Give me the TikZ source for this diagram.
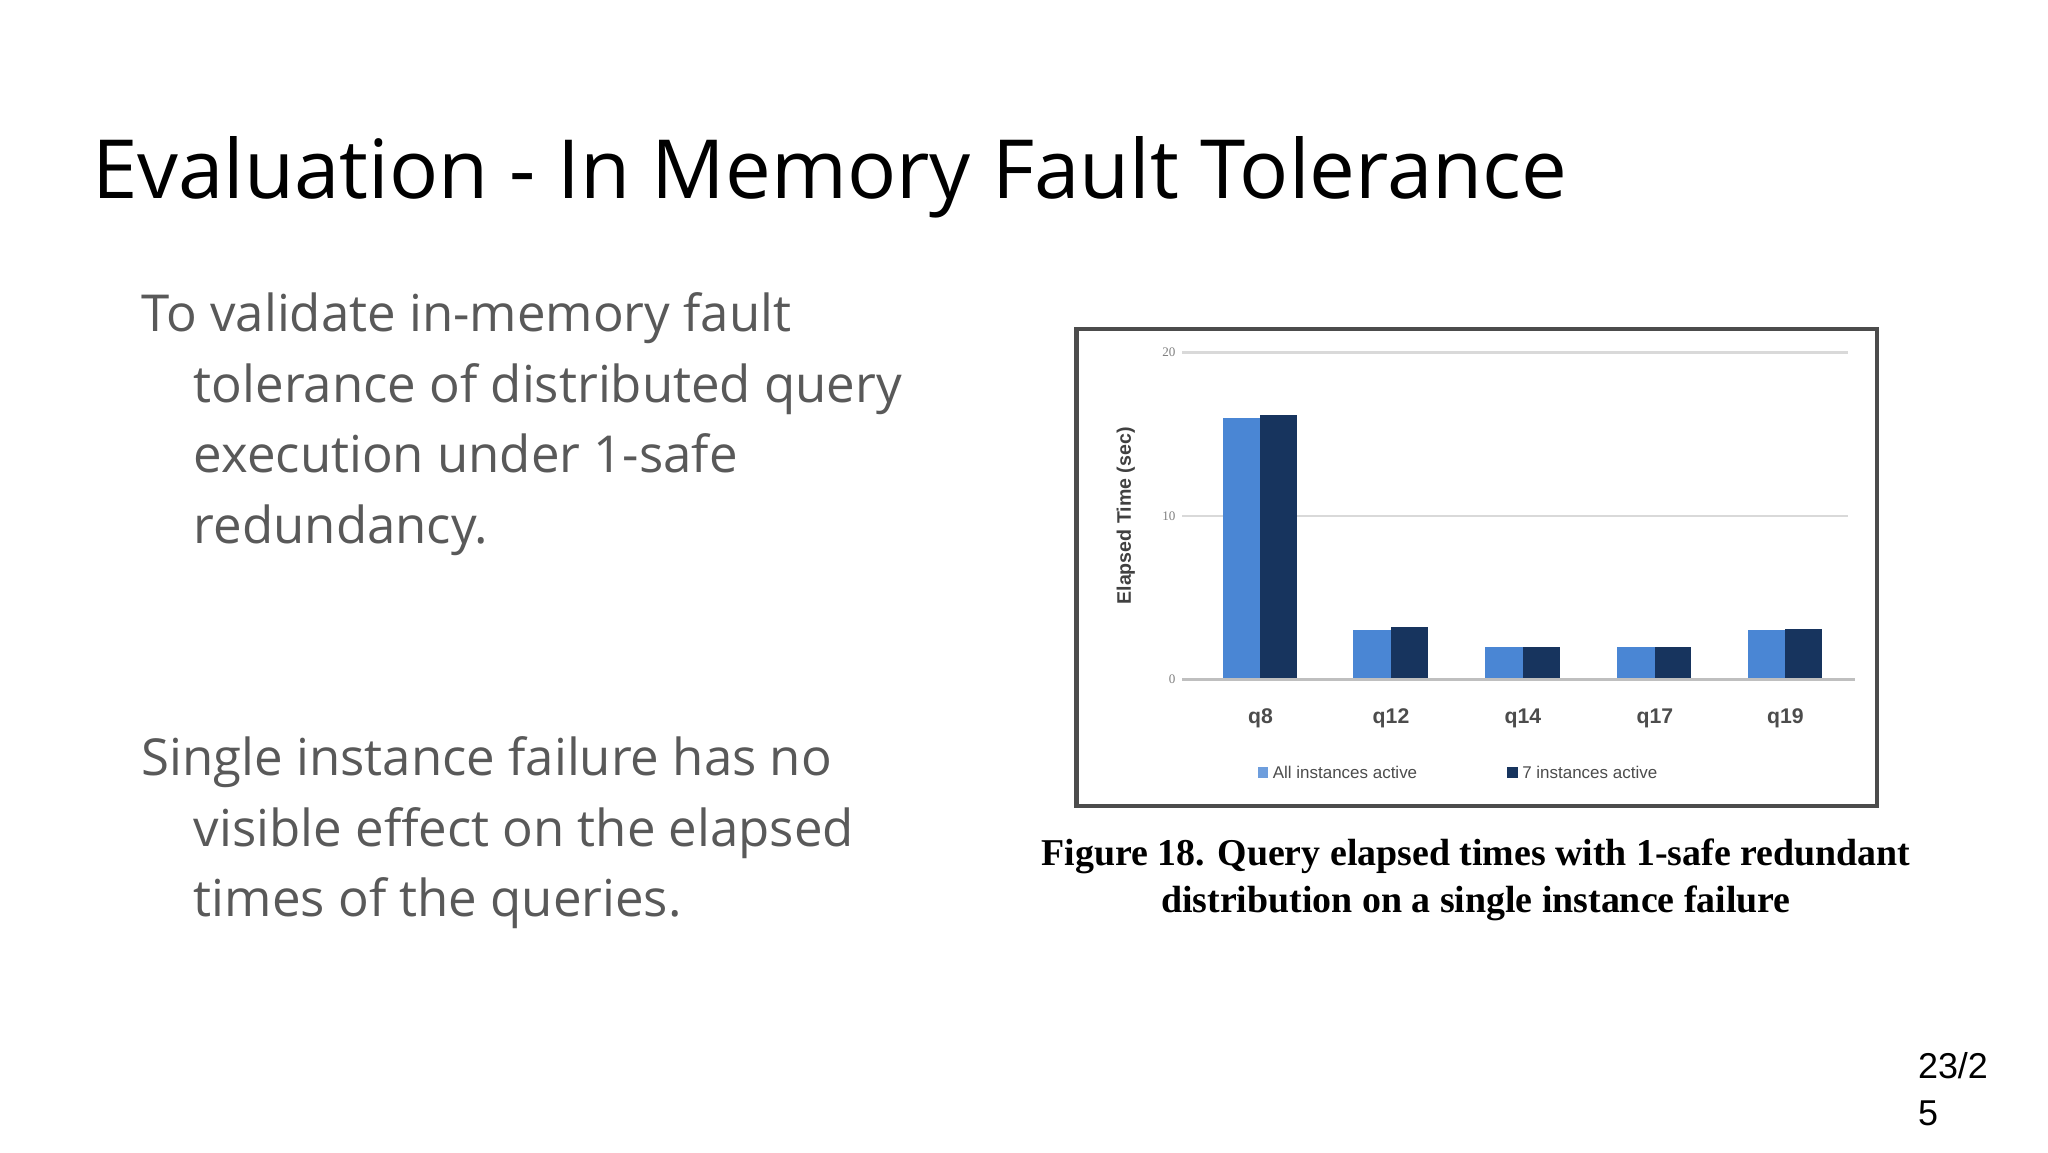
\documentclass[tikz,border=0pt]{standalone}
\usepackage{fontspec}
\setmainfont{Open Sans}
\newfontfamily\capfont{Liberation Serif}
\newfontfamily\arialfont{Liberation Sans}
\begin{document}
\begin{tikzpicture}[x=0.4pt,y=-0.4pt,
  body/.style={anchor=base west,inner sep=0,text=black!65,font=\fontsize{15.6}{20}\selectfont},
  lightbar/.style={fill=lightb,draw=none},
  darkbar/.style={fill=darkb,draw=none},
  tick/.style={font=\capfont\fontsize{4}{5}\selectfont,text=black!50,anchor=east,inner sep=1pt},
  qlab/.style={font=\arialfont\bfseries\fontsize{6.5}{8}\selectfont,text=black!70,inner sep=0},
  figcap/.style={font=\capfont\bfseries\fontsize{11.6}{14}\selectfont,inner sep=0,anchor=base}]
\definecolor{lightb}{HTML}{4A86D4}
\definecolor{darkb}{HTML}{17345E}
\useasboundingbox (0,0) rectangle (1568,882);
\fill[white] (0,0) rectangle (1568,882);
\node[anchor=base west,inner sep=0,font=\fontsize{25}{30}\selectfont] (title) at (70,152) {Evaluation - In Memory Fault Tolerance};
\node[body] (b1) at (108,254) {To validate in-memory fault};
\node[body] (b2) at (148,308) {tolerance of distributed query};
\node[body] (b3) at (148,362) {execution under 1-safe};
\node[body] (b4) at (148,416) {redundancy.};
\node[body] (b5) at (108,594) {Single instance failure has no};
\node[body] (b6) at (148,648) {visible effect on the elapsed};
\node[body] (b7) at (148,702) {times of the queries.};
% chart
\draw[black!70,line width=1.4pt] (824,252) rectangle (1437,617);
\foreach \v/\yy in {20/270,10/395}{\draw[black!15,line width=0.8pt] (905,\yy) -- (1415,\yy);
  \node[tick] (t\v) at (903,\yy) {\v};}
\node[tick] (t0) at (903,520) {0};
\foreach \c/\a/\b/\n in {965/16.0/16.2/q8,1065/3.0/3.2/q12,1166/2.0/2.0/q14,1267/2.0/2.0/q17,1367/3.0/3.1/q19}{
  \fill[lightbar] (\c-29,520) rectangle (\c,{520-12.5*\a});
  \fill[darkbar] (\c,520) rectangle (\c+28,{520-12.5*\b});
  \node[qlab] (l\n) at (\c,550) {\n};}
\draw[black!25,line width=0.8pt] (905,520) -- (1420,520);
\node[rotate=90,font=\arialfont\bfseries\fontsize{6}{7}\selectfont,text=black!75,inner sep=0] (ylab) at (862,395) {Elapsed Time (sec)};
\fill[lightb!80] (963,587) rectangle (971,596);
\node[anchor=west,inner sep=0,font=\arialfont\fontsize{5.2}{6}\selectfont,text=black!70] (lg1) at (974,591.5) {All instances active};
\fill[darkb] (1154,587) rectangle (1162,596);
\node[anchor=west,inner sep=0,font=\arialfont\fontsize{5.2}{6}\selectfont,text=black!70] (lg2) at (1165,591.5) {7 instances active};
\node[figcap] (c1) at (1130,663) {Figure 18. Query elapsed times with 1-safe redundant};
\node[figcap] (c2) at (1130,699) {distribution on a single instance failure};
\node[anchor=base west,inner sep=0,font=\arialfont\fontsize{11}{14}\selectfont] (p1) at (1468,826) {23/2};
\node[anchor=base west,inner sep=0,font=\arialfont\fontsize{11}{14}\selectfont] (p2) at (1468,862) {5};
\end{tikzpicture}
\end{document}
